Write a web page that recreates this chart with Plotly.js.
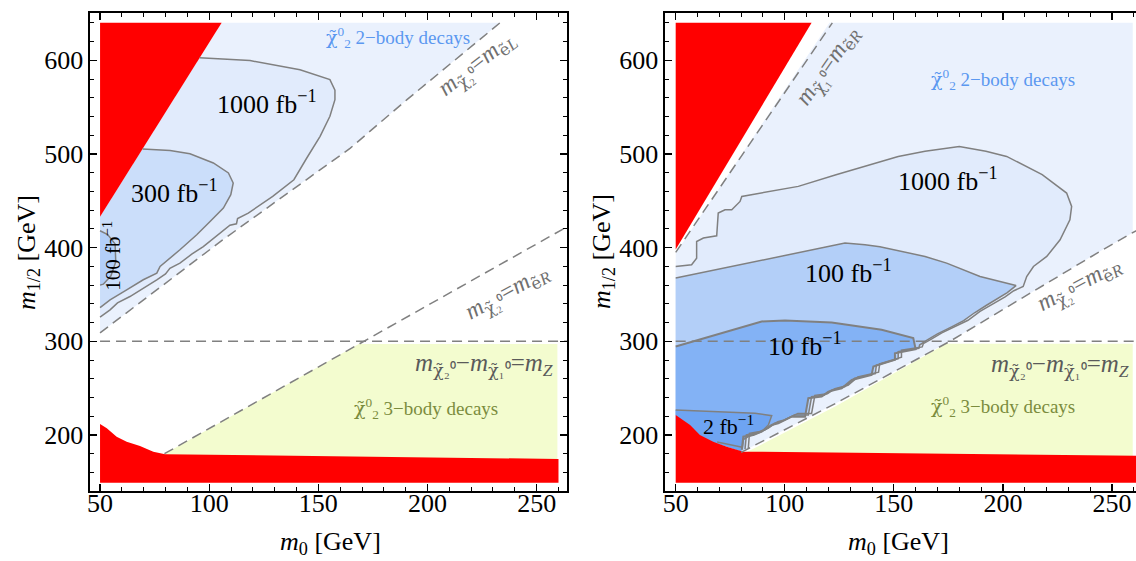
<!DOCTYPE html>
<html>
<head>
<meta charset="utf-8">
<script src="https://cdn.plot.ly/plotly-3.0.1.min.js"></script>
<style>html,body{margin:0;padding:0;background:#fff}</style>
</head>
<body>
<div id="chart" style="width:1136px;height:561px"></div>
<script>
// ---------- left panel: contour regions in the (m0, m1/2) plane ----------
const L_redWedge_x = [50, 105.7, 50];
const L_redWedge_y = [640, 640, 433];
const L_redFloor_x = [50, 50, 53.1, 57.6, 62.2, 68.3, 74.4, 79.8, 260, 260];
const L_redFloor_y = [149, 211.8, 207.2, 198.2, 192.9, 188.3, 182.2, 179.4, 174.4, 149];
const L_twoBody_x = [50, 105.7, 233.2, 190.6, 164.5, 106, 50];
const L_twoBody_y = [433, 640, 640, 558, 506, 408, 309];
const L_threeBody_x = [79.5, 168.5, 259.5, 259.5, 79.5];
const L_threeBody_y = [179.6, 297.2, 297.2, 172, 177];
const L_c1000_x = [95.6, 118.7, 141.6, 150.8, 155.3, 157.6, 157.6, 155.3, 150.8, 144.7, 138.8, 129.1, 117.9, 113, 112.5, 109.5, 104, 97.3, 92, 86.6, 82, 80, 76, 70, 63.7, 58, 54.6, 50];
const L_c1000_y = [602.6, 599.7, 590, 582.5, 579.4, 568, 558, 540.2, 518.8, 495.7, 472.5, 454.7, 436.9, 431, 425.5, 424, 414, 401.2, 393, 383.5, 378, 372, 365.7, 357, 347.8, 341, 333.6, 325.8];
const L_c300_x = [69.5, 82.1, 91.2, 101.9, 108.8, 111, 109.9, 106.5, 100.4, 94.3, 86.6, 80.5, 77.5, 76, 69.8, 62.2, 57, 54.6, 50];
const L_c300_y = [505.3, 503.8, 500.3, 490.4, 479.7, 469, 456.5, 442.3, 428, 413.7, 397.7, 385.2, 380, 372.8, 365.7, 355, 348, 344.3, 336];
const L_c100_x = [50, 53.5, 56.9, 57.2, 55, 51.5, 50];
const L_c100_y = [418, 414, 404, 385, 370, 361, 360];
const L_lineEL_x = [50, 106, 164.5, 190.6, 233.2];
const L_lineEL_y = [309, 408, 506, 558, 640];
const L_lineER_x = [79.5, 170.6, 204.2, 266];
const L_lineER_y = [180, 300, 344.3, 425];
const L_lineZ_x = [50, 266];
const L_lineZ_y = [300, 300];

// ---------- right panel ----------
const R_redWedge_x = [50, 112.3, 50];
const R_redWedge_y = [640, 640, 398];
const R_redFloor_x = [50, 50, 56.6, 61.1, 67.2, 73.4, 81, 262, 262];
const R_redFloor_y = [149, 221.4, 210.7, 200, 192.9, 187.5, 182.2, 177.9, 149];
const R_twoBody_x = [50, 120.5, 259.5, 259.5, 245.7, 175.7, 123.5, 80, 50];
const R_twoBody_y = [394, 640, 640, 416, 397.7, 300, 234, 181.5, 221.4];
const R_threeBody_x = [82, 123.5, 174, 259.5, 259.5, 82];
const R_threeBody_y = [181, 231, 297.5, 297.5, 175, 179];
const R_c1000_x = [50, 57.3, 59.6, 59.6, 62.7, 68.8, 69.5, 72.6, 75.7, 79.5, 80.3, 106.2, 123.5, 152, 164.3, 180, 192.2, 201.7, 218, 229.2, 231.5, 230.7, 226.2, 220.1, 214, 210.9, 209.3, 205, 201, 195.5, 189.5, 184, 178.5, 172, 167, 163.5, 163, 153.5, 153.5, 148.5, 143.5, 143, 133.5, 129, 123, 119.5, 113.8, 112.3, 106, 99.8, 96.8, 92.3, 88.5, 83.8, 83.3];
const R_c1000_y = [379.9, 381.7, 388.8, 406.6, 410.2, 412.7, 436.9, 440.5, 440.5, 449.3, 454.7, 465.4, 477.9, 497.4, 502.8, 508.1, 503, 497.4, 478, 458.3, 444, 429.8, 408.4, 390.6, 379.9, 369.2, 358.5, 354, 347.5, 340, 332, 322.5, 316, 309, 302, 297.5, 294, 290.5, 283, 279.5, 276, 267, 262, 253, 249.5, 244, 242.3, 223, 223, 216, 214.2, 207, 203.7, 201.8, 186];
const R_c100_x = [50, 75.7, 106.2, 127.6, 136.8, 143.6, 164.3, 174.2, 189.5, 204.8, 206, 202, 198, 192.5, 187, 182, 176.5, 170, 165, 161.8, 161.5, 152, 152, 147, 142, 141.5, 132, 127.5, 121.5, 118, 112.3, 110.8, 104.5, 98.3, 95.3, 90.8, 87, 82.4, 81.8];
const R_c100_y = [367.5, 379.9, 394.2, 404.9, 403.1, 401, 390.6, 383.5, 369.2, 360.3, 359.5, 352, 346, 338.5, 330.5, 322, 315.5, 308, 301, 296, 292.5, 289, 281.5, 278, 274.5, 265.5, 260.5, 251.5, 248, 242.5, 240.8, 221.3, 221.3, 214.3, 212.5, 205.3, 202, 200, 185];
const R_c10_x = [50, 63.4, 89.4, 100.1, 121.5, 144.4, 158.9, 160, 150.5, 150.5, 145.9, 140.6, 139.8, 130.7, 126.1, 120, 116.9, 110.8, 109.3, 103.2, 97, 94, 89.4, 85.6, 81, 80.3];
const R_c10_y = [294.4, 303.4, 321.2, 322.3, 320.1, 312.3, 303.4, 291.6, 287.3, 280.2, 276.6, 273, 264.1, 258.8, 249.9, 246.3, 241, 239.2, 219.6, 219.6, 212.5, 210.7, 203.5, 200, 198.2, 184];
const R_c2_x = [50, 68, 86.4, 94, 92.5, 89.4, 83.3, 81, 80.5];
const R_c2_y = [226.7, 224.9, 223.1, 220.6, 210.7, 203.5, 198.2, 195, 186];
const R_c2low_x = [69, 75.7, 80.5];
const R_c2low_y = [192.5, 189.3, 187];
const R_lineN1_x = [50, 121.8];
const R_lineN1_y = [395, 640];
const R_lineER_x = [80, 123.5, 175.7, 245.7, 264];
const R_lineER_y = [181.5, 234, 300, 397.7, 422];
const R_lineZ_x = [50, 264];
const R_lineZ_y = [300, 300];

const xTickVals = [50, 100, 150, 200, 250];
const yTickVals = [200, 300, 400, 500, 600];

// ---------- styling ----------
const SERIF = 'Liberation Serif';
const C = {
  red: '#ff0000', twoBody: '#eaf1fd', l1000: '#e1ebfc', l300: '#cbdefa',
  l100: '#b3cff8', l10: '#83b2f5', l2: '#6ea4f2', yellow: '#f3fccf',
  contour: '#808080', dash: '#808080'
};

function fill(xs, ys, color, xa, ya) {
  return {type: 'scatter', mode: 'lines', x: xs, y: ys, fill: 'toself', fillcolor: color,
    line: {width: 0, color: color}, hoverinfo: 'skip', xaxis: xa, yaxis: ya, showlegend: false};
}
function stroke(xs, ys, xa, ya, dash, w) {
  return {type: 'scatter', mode: 'lines', x: xs, y: ys,
    line: {width: w || 1.5, color: dash ? C.dash : C.contour, dash: dash ? '10px,6px' : 'solid'},
    hoverinfo: 'skip', xaxis: xa, yaxis: ya, showlegend: false};
}
function closeTo(xs, ys, ex, ey) { return [xs.concat(ex), ys.concat(ey)]; }

const traces = [];
// left
traces.push(fill(L_twoBody_x, L_twoBody_y, C.twoBody, 'x', 'y'));
let p = closeTo(L_c1000_x, L_c1000_y, [50], [433]);
traces.push(fill(p[0], p[1], C.l1000, 'x', 'y'));
p = closeTo(L_c300_x, L_c300_y, [50], [433]);
traces.push(fill(p[0], p[1], C.l300, 'x', 'y'));
traces.push(fill(L_c100_x, L_c100_y, C.l100, 'x', 'y'));
traces.push(fill(L_threeBody_x, L_threeBody_y, C.yellow, 'x', 'y'));
traces.push(fill(L_redWedge_x, L_redWedge_y, C.red, 'x', 'y'));
traces.push(fill(L_redFloor_x, L_redFloor_y, C.red, 'x', 'y'));
traces.push(stroke(L_c1000_x, L_c1000_y, 'x', 'y'));
traces.push(stroke(L_c300_x, L_c300_y, 'x', 'y'));
traces.push(stroke(L_c100_x, L_c100_y, 'x', 'y'));
traces.push(stroke(L_lineEL_x, L_lineEL_y, 'x', 'y', true));
traces.push(stroke(L_lineER_x, L_lineER_y, 'x', 'y', true));
traces.push(stroke(L_lineZ_x, L_lineZ_y, 'x', 'y', true));
// right
traces.push(fill(R_twoBody_x, R_twoBody_y, C.twoBody, 'x2', 'y2'));
p = closeTo(R_c1000_x, R_c1000_y, [80, 50], [182.5, 221.4]);
traces.push(fill(p[0], p[1], C.l1000, 'x2', 'y2'));
p = closeTo(R_c100_x, R_c100_y, [80, 50], [182.5, 221.4]);
traces.push(fill(p[0], p[1], C.l100, 'x2', 'y2'));
p = closeTo(R_c10_x, R_c10_y, [80, 50], [182.5, 221.4]);
traces.push(fill(p[0], p[1], C.l10, 'x2', 'y2'));
p = closeTo(R_c2_x, R_c2_y, [80, 50], [182.5, 205]);
traces.push(fill(p[0], p[1], C.l2, 'x2', 'y2'));
traces.push(fill(R_threeBody_x, R_threeBody_y, C.yellow, 'x2', 'y2'));
traces.push(fill(R_redWedge_x, R_redWedge_y, C.red, 'x2', 'y2'));
traces.push(fill(R_redFloor_x, R_redFloor_y, C.red, 'x2', 'y2'));
traces.push(stroke(R_c1000_x, R_c1000_y, 'x2', 'y2'));
traces.push(stroke(R_c100_x, R_c100_y, 'x2', 'y2'));
traces.push(stroke(R_c10_x, R_c10_y, 'x2', 'y2', false, 2));
traces.push(stroke(R_c2_x, R_c2_y, 'x2', 'y2'));
traces.push(stroke(R_c2low_x, R_c2low_y, 'x2', 'y2'));
traces.push(stroke(R_lineN1_x, R_lineN1_y, 'x2', 'y2', true));
traces.push(stroke(R_lineER_x, R_lineER_y, 'x2', 'y2', true));
traces.push(stroke(R_lineZ_x, R_lineZ_y, 'x2', 'y2', true));

function xAxis(domain, range, anchor, mirror) {
  return {domain: domain, range: range, anchor: anchor, tickmode: 'array', tickvals: xTickVals,
    ticks: 'inside', ticklen: 7, tickwidth: 1.3, tickcolor: '#000', showline: true, linecolor: '#000',
    linewidth: 1.6, mirror: mirror, showgrid: false, zeroline: false,
    ticklabelposition: 'outside', ticklabelstandoff: -12,
    minor: {ticks: 'inside', ticklen: 4, tickwidth: 1, tickcolor: '#000', tickmode: 'linear', tick0: 0, dtick: 10, showgrid: false},
    tickfont: {family: SERIF, size: 26, color: '#000'}};
}
function yAxis(domain, range, anchor, mirror) {
  return {domain: domain, range: range, anchor: anchor, tickmode: 'array', tickvals: yTickVals,
    ticks: 'inside', ticklen: 7, tickwidth: 1.3, tickcolor: '#000', showline: true, linecolor: '#000',
    linewidth: 1.6, mirror: mirror, showgrid: false, zeroline: false,
    minor: {ticks: 'inside', ticklen: 4, tickwidth: 1, tickcolor: '#000', tickmode: 'linear', tick0: 0, dtick: 20, showgrid: false},
    tickfont: {family: SERIF, size: 26, color: '#000'}};
}

const yDom = [1 - 491 / 561, 1 - 13 / 561];
const yRange = [140.2, 650.5];

// neutralino symbol: chi with a tilde, set in DejaVu Serif where the combining tilde sits well
const CHI = '<span style="font-family:DejaVu Serif">χ̃</span>';
const CHI2 = CHI + '<sup>0</sup><sub>2</sub>';
const M_N2 = '<i>m</i><sub>' + CHI + '₂⁰</sub>';
const M_N1 = '<i>m</i><sub>' + CHI + '₁⁰</sub>';
const M_ER = '<i>m</i><sub><span style="font-family:DejaVu Serif">ẽ</span><i>R</i></sub>';
const M_EL = '<i>m</i><sub><span style="font-family:DejaVu Serif">ẽ</span><i>L</i></sub>';
const M_Z = '<i>m</i><sub><i>Z</i></sub>';

function txt(xref, yref, x, y, text, size, color, angle, extra) {
  return Object.assign({xref: xref, yref: yref, x: x, y: y, text: text, showarrow: false,
    xanchor: 'center', yanchor: 'middle',
    font: {family: SERIF, size: size, color: color}, textangle: angle || 0}, extra || {});
}
const annotations = [
  // left panel labels
  txt('x', 'y', 126.3, 554.5, '1000 fb<sup>−1</sup>', 26, '#000'),
  txt('x', 'y', 84.3, 460, '300 fb<sup>−1</sup>', 26, '#000'),
  txt('x', 'y', 55.3, 391, '100 fb<sup>−1</sup>', 21, '#000', -90),
  txt('x', 'y', 186.6, 624, CHI2 + ' 2−body decays', 19, '#5b98f0'),
  txt('x', 'y', 222.9, 596.5, M_N2 + '=' + M_EL, 24, '#707070', -38),
  txt('x', 'y', 236.4, 351.6, M_N2 + '=' + M_ER, 24, '#707070', -29),
  txt('x', 'y', 258.4, 275, M_N2 + '−' + M_N1 + '=' + M_Z, 25, '#5a5a5a', 0, {xanchor: 'right'}),
  txt('x', 'y', 199.3, 228.5, CHI2 + ' 3−body decays', 19, '#7b8c3e'),
  // right panel labels
  txt('x2', 'y2', 175, 472.5, '1000 fb<sup>−1</sup>', 26, '#000'),
  txt('x2', 'y2', 129.1, 374.5, '100 fb<sup>−1</sup>', 26, '#000'),
  txt('x2', 'y2', 109.3, 296.2, '10 fb<sup>−1</sup>', 26, '#000'),
  txt('x2', 'y2', 74.1, 210.7, '2 fb<sup>−1</sup>', 22, '#000'),
  txt('x2', 'y2', 199.9, 579.4, CHI2 + ' 2−body decays', 19, '#5b98f0'),
  txt('x2', 'y2', 120, 593.6, M_N1 + '=' + M_ER, 24, '#707070', -55),
  txt('x2', 'y2', 235, 360.3, M_N2 + '=' + M_ER, 24, '#707070', -28),
  txt('x2', 'y2', 258.7, 274.7, M_N2 + '−' + M_N1 + '=' + M_Z, 25, '#5a5a5a', 0, {xanchor: 'right'}),
  txt('x2', 'y2', 199.9, 230.3, CHI2 + ' 3−body decays', 19, '#7b8c3e'),
  // axis titles
  txt('paper', 'paper', 330 / 1136, 1 - 543 / 561, '<i>m</i><sub>0</sub> [GeV]', 26, '#000'),
  txt('paper', 'paper', 898 / 1136, 1 - 543 / 561, '<i>m</i><sub>0</sub> [GeV]', 26, '#000'),
  txt('paper', 'paper', 28 / 1136, 1 - 252 / 561, '<i>m</i><sub>1/2</sub> [GeV]', 26, '#000', -90),
  txt('paper', 'paper', 603 / 1136, 1 - 252 / 561, '<i>m</i><sub>1/2</sub> [GeV]', 26, '#000', -90)
];

const layout = {
  width: 1136, height: 561, autosize: false,
  margin: {l: 0, r: 0, t: 0, b: 0},
  paper_bgcolor: '#fff', plot_bgcolor: '#fff',
  showlegend: false,
  font: {family: SERIF},
  xaxis: xAxis([90 / 1136, 567 / 1136], [45.4, 263.9], 'y', 'ticks'),
  yaxis: yAxis(yDom, yRange, 'x', 'ticks'),
  xaxis2: xAxis([665 / 1136, 1], [45.1, 261.0], 'y2', 'ticks'),
  yaxis2: yAxis(yDom, yRange, 'x2', false),
  annotations: annotations
};

Plotly.newPlot('chart', traces, layout, {staticPlot: true, displayModeBar: false});
</script>
</body>
</html>
